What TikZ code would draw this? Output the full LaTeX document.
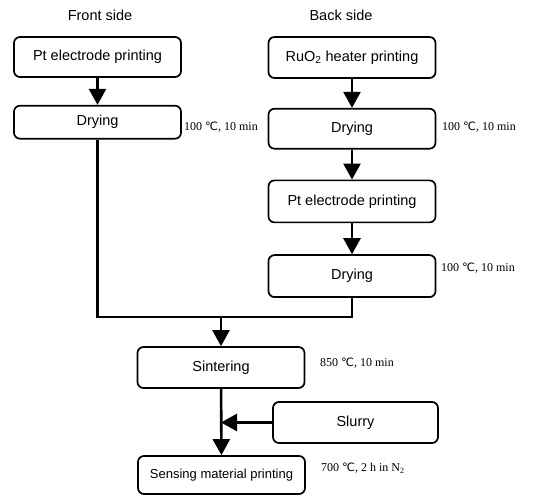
\documentclass[tikz,border=0pt]{standalone}
\usepackage{fontspec}
\usepackage{tikz}
\usetikzlibrary{arrows.meta,positioning}
\setmainfont{Liberation Sans}
\newfontfamily\condserif{Liberation Serif}
\newfontfamily\degfont{DejaVu Sans}
\newcommand{\procfont}{\fontsize{14.5}{17}\selectfont}
\newcommand{\condfont}{\condserif\fontsize{12}{14}\selectfont}
\newcommand{\degC}{{\degfont\fontsize{11.5}{13}\selectfont ℃}}

\begin{document}
\begin{tikzpicture}[
    x=1pt, y=-1pt,
    every node/.style={align=center},
    process/.style={rectangle, rounded corners=6pt, minimum width=167pt, minimum height=41pt, text centered, draw=black, line width=1.7pt, font=\procfont},
    header/.style={font=\procfont},
    cond/.style={anchor=west, inner sep=0pt, font=\condfont},
    link/.style={line width=2.6pt},
    arrow/.style={line width=2.6pt, -{Triangle[length=16pt,width=17pt]}}
]
\useasboundingbox (0,0) rectangle (536,497);

% Column titles
\node[header] (front_title) at (100,15) {Front side};
\node[header] (back_title) at (341,15) {Back side};

% Front side
\node[process, minimum height=40pt] (pt_front) at (97.5,57) {Pt electrode printing};
\node[process, minimum height=33pt, below=27pt of pt_front] (dry_front) {Drying};

% Back side
\node[process] (ruo2_back) at (352,57.5) {RuO\textsubscript{2} heater printing};
\node[process, minimum height=40pt, below=29pt of ruo2_back] (dry_back) {Drying};
\node[process, minimum height=42pt, below=30pt of dry_back] (pt_back) {Pt electrode printing};
\node[process, minimum height=42pt, below=31pt of pt_back] (dry_back2) {Drying};

% Common steps
\node[process] (sinter) at (221,367.5) {Sintering};
\node[process, minimum width=165pt] (slurry) at (355.5,422.5) {Slurry};
\node[process, minimum height=38pt, font=\fontsize{13}{15}\selectfont] (sense) at (221.5,475) {Sensing material printing};

% Conditions
\node[cond] (cond_front) at (184,127) {100 \degC, 10 min};
\node[cond] (cond_back) at (442,127) {100 \degC, 10 min};
\node[cond] (cond_back2) at (441,268) {100 \degC, 10 min};
\node[cond] (cond_sinter) at (320,363) {850 \degC, 10 min};
\node[cond] (cond_sense) at (321,468) {700 \degC, 2 h in N\textsubscript{2}};

% Junctions
\coordinate[above=29pt of sinter.north] (merge);
\coordinate (join) at (sinter.south |- slurry.west);

% Connections
\draw[arrow] (pt_front) -- (dry_front);
\draw[arrow] (ruo2_back) -- (dry_back);
\draw[arrow] (dry_back) -- (pt_back);
\draw[arrow] (pt_back) -- (dry_back2);
\draw[link] (dry_front) |- (merge) -| (dry_back2);
\draw[arrow] (merge) -- (sinter);
\draw[arrow] (sinter) -- (sense);
\draw[arrow] (slurry) -- (join);

\end{tikzpicture}
\end{document}
